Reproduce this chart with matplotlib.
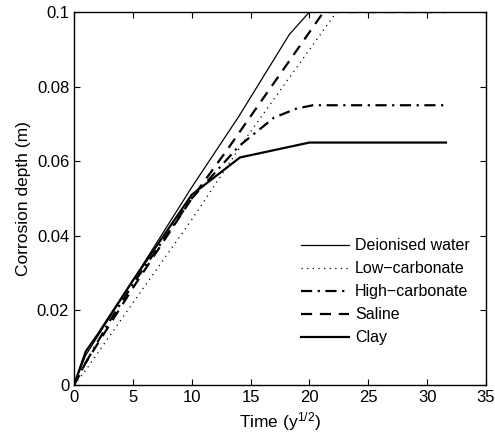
import matplotlib
matplotlib.use("Agg")
import matplotlib.pyplot as plt
from matplotlib.ticker import FixedFormatter

plt.rcParams["font.family"] = ["Liberation Sans", "DejaVu Sans"]
plt.rcParams["mathtext.fontset"] = "custom"
plt.rcParams["mathtext.rm"] = "Liberation Sans"
plt.rcParams["mathtext.it"] = "Liberation Sans"

# time axis is sqrt(years)
deion_x = [0, 1, 2, 5, 10, 14, 18.3, 20, 31.6]
deion_y = [0, 0.008, 0.013, 0.028, 0.053, 0.072, 0.094, 0.1, 0.1]

lowc_x = [0, 1, 5, 10, 14.7, 22.3, 31.6]
lowc_y = [0, 0.004, 0.022, 0.0443, 0.0666, 0.1, 0.1]

highc_x = [0, 1, 3, 5, 10, 14, 17, 18.9, 20.3, 31.6]
highc_y = [0, 0.006, 0.017, 0.027, 0.05, 0.064, 0.0717, 0.0741, 0.075, 0.075]

saline_x = [0, 1, 3, 5, 10, 13, 21.2, 31.6]
saline_y = [0, 0.006, 0.016, 0.026, 0.05, 0.063, 0.1, 0.1]

clay_x = [0, 1, 2, 5, 10, 14.1, 20, 31.6]
clay_y = [0, 0.009, 0.0135, 0.028, 0.051, 0.061, 0.065, 0.065]

labels = ["Deionised water", "Low\u2212carbonate", "High\u2212carbonate", "Saline", "Clay"]

fig = plt.figure(figsize=(4.95, 4.41), dpi=100)
ax = fig.add_axes([0.1495, 0.127, 0.8323, 0.8458])

ax.plot(deion_x, deion_y, "k-", lw=0.9, label=labels[0])
ax.plot(lowc_x, lowc_y, color="k", ls=(0, (1, 3.5)), lw=0.9, label=labels[1])
ax.plot(highc_x, highc_y, color="k", ls=(0, (5, 2.5, 1, 2.5)), lw=1.6, label=labels[2])
ax.plot(saline_x, saline_y, color="k", ls=(0, (5, 3.5)), lw=1.6, label=labels[3])
ax.plot(clay_x, clay_y, "k-", lw=1.6, label=labels[4])

ax.set_xlim(0, 35)
ax.set_ylim(0, 0.1)
ax.set_xticks(range(0, 36, 5))
ax.set_yticks([0, 0.02, 0.04, 0.06, 0.08, 0.1])
ax.yaxis.set_major_formatter(FixedFormatter(["0", "0.02", "0.04", "0.06", "0.08", "0.1"]))
ax.tick_params(direction="in", top=True, right=True, labelsize=12, length=4)
for s in ax.spines.values():
    s.set_linewidth(1.0)

ax.set_xlabel("Time (y$^{1/2}$)", fontsize=12.5)
ax.set_ylabel("Corrosion depth (m)", fontsize=12.5)

ax.legend(loc="upper left", bbox_to_anchor=(0.535, 0.41), frameon=False,
          fontsize=11.5, handlelength=3.0, handletextpad=0.4, labelspacing=0.5,
          borderaxespad=0)

fig.savefig("out.png", dpi=100)
